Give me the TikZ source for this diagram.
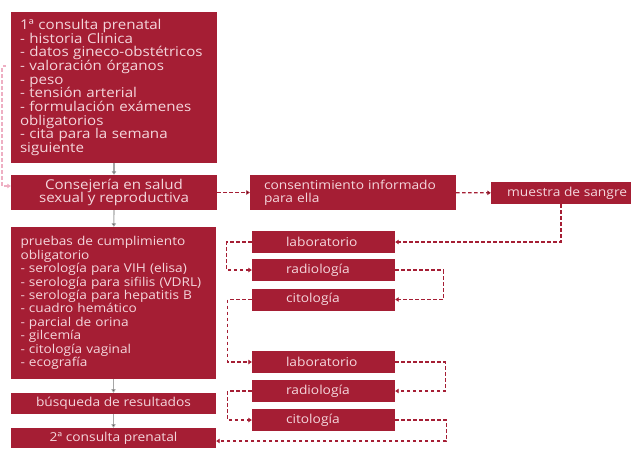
\documentclass[tikz,border=0pt]{standalone}
\usepackage{fontspec}
\setmainfont{Open Sans}[FakeStretch=1.12]
\usetikzlibrary{arrows.meta}
\definecolor{wine}{RGB}{165,30,52}
\definecolor{rose}{RGB}{244,214,220}
\definecolor{pale}{RGB}{238,175,195}
\begin{document}
\begin{tikzpicture}[x=1pt, y=-1pt, >={Triangle[length=3.5pt,width=4.5pt]},
  box/.style={fill=wine, text=rose, inner sep=0pt, font=\fontsize{13.5}{13.7}\selectfont},
  mid/.style={font=\fontsize{12.3}{13.4}\selectfont},
  small/.style={box, mid, minimum width=143pt, minimum height=22pt, text width=75pt, align=left},
  flow/.style={->, draw=gray!70, line width=1.2pt},
  link/.style={->, draw=wine, line width=1.3pt, dash pattern=on 3.5pt off 2.5pt}]
\useasboundingbox (0,0) rectangle (631,448);
\node[box, minimum width=206pt, minimum height=151pt, text width=188pt, align=left] (B1) at (114,87.5) {1ª consulta prenatal\\- historia Clinica\\- datos gineco-obstétricos\\- valoración órganos\\- peso\\- tensión arterial\\- formulación exámenes\\obligatorios\\- cita para la semana\\siguiente};
\node[box, minimum width=206pt, minimum height=35pt, align=center] (S) at (114,192.5) {Consejería  en salud\\sexual y reproductiva};
\node[box, font=\fontsize{12.2}{13.4}\selectfont, minimum width=205pt, minimum height=152pt, text width=186pt, align=left] (B3) at (113.5,303) {pruebas de cumplimiento\\obligatorio\\- serología para VIH (elisa)\\- serología para sifilis (VDRL)\\- serología para hepatitis B\\- cuadro hemático\\- parcial de orina\\- gilcemía\\- citología vaginal\\- ecografía};
\node[box, font=\fontsize{12.3}{13}\selectfont, minimum width=205pt, minimum height=21pt] (B4) at (113.5,403.5) {búsqueda de resultados};
\node[box, mid, minimum width=205pt, minimum height=20pt] (B5) at (113.5,438) {2ª consulta prenatal};
\node[box, mid, minimum width=206pt, minimum height=35pt, text width=178pt, align=left] (K) at (353,192.5) {consentimiento informado\\para ella};
\node[box, mid, minimum width=140pt, minimum height=22pt] (M) at (561,193) {\makebox[108pt][l]{muestra de sangre}};
\node[small] (L1) at (323.5,242) {laboratorio};
\node[small] (R1) at (323.5,270) {radiología};
\node[small] (C1) at (323.5,299.5) {citología};
\node[small] (L2) at (323.5,362) {laboratorio};
\node[small] (R2) at (323.5,391) {radiología};
\node[small] (C2) at (323.5,420) {citología};
\coordinate (T) at (6,66);
\path [flow] (B1) edge (S);
\path [flow] (S) edge (B3);
\path [flow] (B3) edge (B4);
\path [flow] (B4) edge (B5);
\draw [link, draw=pale] (T) -- ++(-4,0) |- ([yshift=6.5pt]S.west);
\path [link] (S) edge (K);
\path [link] (K) edge (M);
\draw [link] (M.south) |- (L1.east);
\draw [link] (L1.west) -- ++(-25,0) |- (R1.west);
\draw [link] (R1.east) -- ++(48,0) |- (C1.east);
\draw [link] (C1.west) -- ++(-24,0) |- (L2.west);
\draw [link] (L2.east) -- ++(50,0) |- (R2.east);
\draw [link] (R2.west) -- ++(-24,0) |- (C2.west);
\draw [link] (C2.east) -- ++(51,0) |- ([yshift=-3pt]B5.east);
\end{tikzpicture}
\end{document}
